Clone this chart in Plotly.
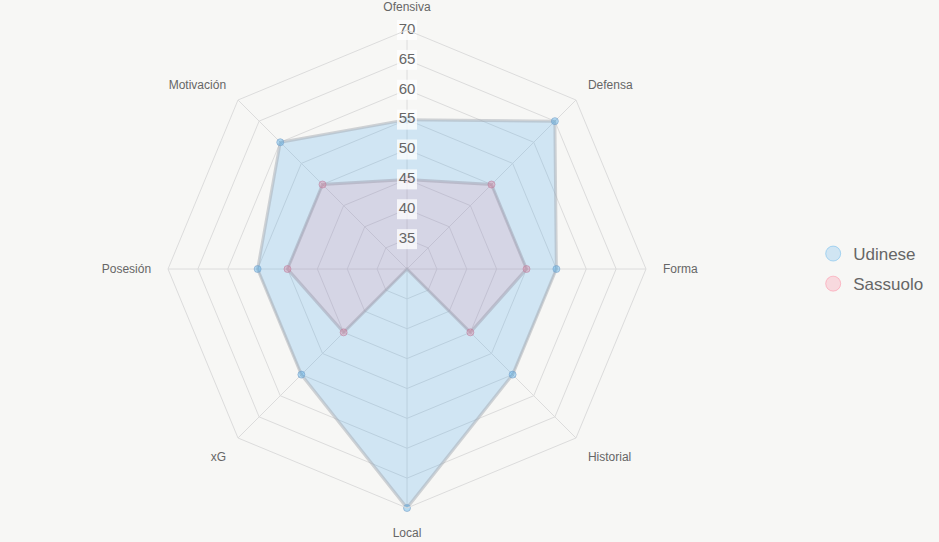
import plotly.graph_objects as go

categories = ["Ofensiva", "Defensa", "Forma", "Historial", "Local", "xG", "Posesión", "Motivación"]
udinese = [55, 65, 55, 55, 70, 55, 55, 60]
sassuolo = [45, 50, 50, 45, 30, 45, 50, 50]
tick_vals = [35, 40, 45, 50, 55, 60, 65, 70]
tick_text = [str(v) for v in tick_vals]

BG = "#f7f7f5"
fig = go.Figure()

def closed(a):
    return a + a[:1]

fig.add_trace(go.Scatterpolar(
    r=closed(udinese), theta=closed(categories), name="Udinese",
    mode="lines+markers", fill="toself",
    fillcolor="rgba(54,162,235,0.2)",
    line=dict(color="rgba(165,172,180,0.5)", width=3),
    marker=dict(size=7, color="rgba(54,162,235,0.35)", line=dict(color="rgba(120,160,200,0.6)", width=1)),
    showlegend=False, hoverinfo="r+theta"))
fig.add_trace(go.Scatterpolar(
    r=closed(sassuolo), theta=closed(categories), name="Sassuolo",
    mode="lines+markers", fill="toself",
    fillcolor="rgba(255,99,132,0.12)",
    line=dict(color="rgba(160,160,175,0.5)", width=3),
    marker=dict(size=7, color="rgba(220,120,150,0.35)", line=dict(color="rgba(190,130,160,0.6)", width=1)),
    showlegend=False, hoverinfo="r+theta"))

# radial tick labels centered on the top spoke
fig.add_trace(go.Scatterpolar(
    r=tick_vals, theta=[categories[0]] * len(tick_vals), mode="markers+text",
    text=tick_text, textposition="middle center",
    textfont=dict(size=15, color="#666666", family="Liberation Sans, Arial, sans-serif"),
    marker=dict(symbol="square", size=20, color="rgba(255,255,255,0.75)", line=dict(width=0)),
    showlegend=False, hoverinfo="skip"))

# legend entries
fig.add_trace(go.Scatterpolar(r=[None], theta=[None], name="Udinese", mode="markers", legendgroup="u",
    marker=dict(size=15, color="rgba(54,162,235,0.2)", line=dict(color="rgba(54,162,235,0.35)", width=1))))
fig.add_trace(go.Scatterpolar(r=[None], theta=[None], name="Sassuolo", mode="markers", legendgroup="s",
    marker=dict(size=15, color="rgba(255,99,132,0.2)", line=dict(color="rgba(255,99,132,0.35)", width=1))))

cx, R, W = 407, 239, 939
fig.update_layout(
    width=939, height=542,
    paper_bgcolor=BG, plot_bgcolor=BG,
    margin=dict(l=0, r=0, t=30, b=34),
    font=dict(family="Liberation Sans, Arial, sans-serif", color="#666666"),
    polar=dict(
        domain=dict(x=[(cx - R) / W, (cx + R) / W], y=[0, 1]),
        bgcolor=BG,
        gridshape="linear",
        angularaxis=dict(rotation=90, direction="clockwise",
                         gridcolor="#dcdcdc", linecolor="#dcdcdc", showline=True,
                         tickfont=dict(size=12, color="#666666"),
                         ticks="outside", ticklen=14, tickcolor="rgba(0,0,0,0)"),
        radialaxis=dict(range=[30, 70], tickvals=tick_vals, showticklabels=False,
                        gridcolor="#dcdcdc", showline=False, ticks=""),
    ),
    legend=dict(x=0.866, y=0.5, yanchor="middle", xanchor="left",
                font=dict(size=17, color="#666666"), bgcolor="rgba(0,0,0,0)",
                itemsizing="trace", tracegroupgap=5),
)

fig.write_html("out.html")
